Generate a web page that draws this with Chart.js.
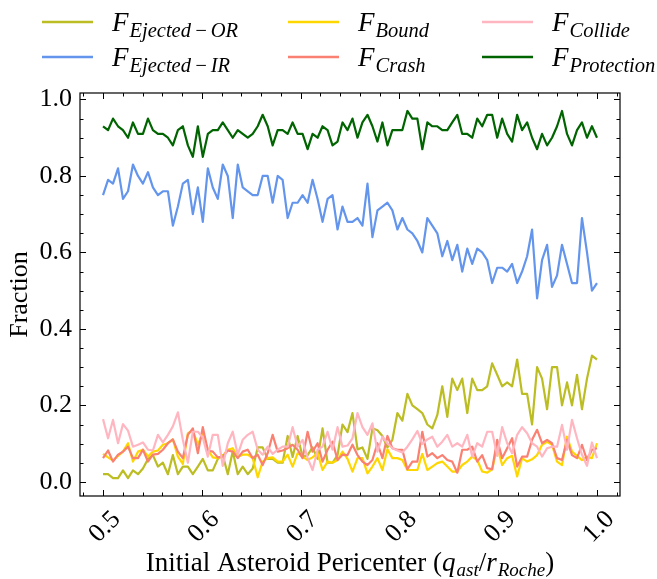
<!DOCTYPE html>
<html><head><meta charset="utf-8">
<script src="https://cdn.jsdelivr.net/npm/chart.js@4/dist/chart.umd.min.js"></script>
<style>html,body{margin:0;padding:0;background:#fff}#wrap{width:657px;height:579px}</style>
</head><body><div id="wrap"><canvas id="c" width="657" height="579"></canvas></div>
<script>
// ---- data ----
const pericenter = [0.5000,0.5051,0.5101,0.5152,0.5202,0.5253,0.5303,0.5354,0.5404,0.5455,
0.5505,0.5556,0.5606,0.5657,0.5707,0.5758,0.5808,0.5859,0.5909,0.5960,
0.6010,0.6061,0.6111,0.6162,0.6212,0.6263,0.6313,0.6364,0.6414,0.6465,
0.6515,0.6566,0.6616,0.6667,0.6717,0.6768,0.6818,0.6869,0.6919,0.6970,
0.7020,0.7071,0.7121,0.7172,0.7222,0.7273,0.7323,0.7374,0.7424,0.7475,
0.7525,0.7576,0.7626,0.7677,0.7727,0.7778,0.7828,0.7879,0.7929,0.7980,
0.8030,0.8081,0.8131,0.8182,0.8232,0.8283,0.8333,0.8384,0.8434,0.8485,
0.8535,0.8586,0.8636,0.8687,0.8737,0.8788,0.8838,0.8889,0.8939,0.8990,
0.9040,0.9091,0.9141,0.9192,0.9242,0.9293,0.9343,0.9394,0.9444,0.9495,
0.9545,0.9596,0.9646,0.9697,0.9747,0.9798,0.9848,0.9899,0.9949,1.0000];

const fEjectedOR = [0.02,0.02,0.01,0.01,0.03,0.01,0.03,0.02,0.035,0.06,
0.07,0.04,0.05,0.02,0.07,0.02,0.04,0.04,0.02,0.04,
0.06,0.03,0.03,0.06,0.07,0.02,0.08,0.02,0.04,0.02,
0.035,0.09,0.09,0.06,0.06,0.05,0.05,0.12,0.065,0.12,
0.065,0.07,0.09,0.06,0.14,0.05,0.05,0.07,0.15,0.13,
0.18,0.085,0.09,0.06,0.14,0.135,0.12,0.09,0.11,0.18,
0.16,0.23,0.20,0.19,0.18,0.15,0.14,0.175,0.25,0.17,
0.27,0.24,0.27,0.18,0.27,0.24,0.24,0.25,0.31,0.28,
0.25,0.26,0.25,0.32,0.23,0.23,0.15,0.30,0.27,0.19,
0.30,0.30,0.20,0.26,0.20,0.28,0.19,0.27,0.33,0.32];

const fEjectedIR = [0.75,0.79,0.78,0.82,0.74,0.76,0.83,0.80,0.78,0.81,
0.77,0.75,0.76,0.76,0.67,0.72,0.78,0.79,0.70,0.77,
0.68,0.82,0.77,0.74,0.83,0.80,0.69,0.83,0.77,0.76,
0.75,0.75,0.80,0.80,0.73,0.80,0.79,0.69,0.73,0.73,
0.75,0.73,0.79,0.74,0.68,0.74,0.75,0.66,0.72,0.68,
0.68,0.69,0.67,0.78,0.64,0.71,0.72,0.73,0.71,0.66,
0.69,0.66,0.65,0.63,0.60,0.69,0.67,0.65,0.59,0.63,
0.58,0.62,0.55,0.61,0.57,0.61,0.60,0.58,0.52,0.56,
0.56,0.55,0.57,0.52,0.55,0.59,0.66,0.48,0.58,0.62,
0.51,0.54,0.62,0.57,0.52,0.52,0.69,0.60,0.50,0.52];

const fBound = [0.073,0.064,0.056,0.068,0.079,0.101,0.053,0.079,0.084,0.066,
0.079,0.082,0.097,0.101,0.111,0.066,0.047,0.127,0.134,0.097,
0.127,0.084,0.064,0.062,0.068,0.084,0.088,0.066,0.071,0.071,
0.062,0.012,0.053,0.062,0.064,0.053,0.053,0.071,0.040,0.075,
0.066,0.057,0.064,0.075,0.031,0.053,0.050,0.057,0.079,0.060,
0.027,0.062,0.062,0.022,0.040,0.062,0.031,0.085,0.062,0.062,
0.057,0.031,0.031,0.031,0.073,0.031,0.040,0.049,0.053,0.040,
0.027,0.027,0.044,0.053,0.066,0.057,0.027,0.024,0.033,0.092,
0.044,0.062,0.068,0.014,0.062,0.053,0.059,0.070,0.097,0.105,
0.097,0.053,0.044,0.118,0.079,0.068,0.057,0.066,0.062,0.101];

const fCrash = [0.062,0.082,0.053,0.071,0.079,0.092,0.062,0.062,0.084,0.053,
0.071,0.073,0.084,0.101,0.111,0.079,0.062,0.123,0.140,0.075,
0.143,0.082,0.079,0.064,0.066,0.082,0.079,0.062,0.079,0.084,
0.062,0.071,0.044,0.075,0.123,0.079,0.082,0.088,0.097,0.084,
0.062,0.131,0.079,0.101,0.053,0.084,0.105,0.057,0.071,0.070,
0.097,0.070,0.053,0.044,0.057,0.101,0.062,0.120,0.088,0.084,
0.084,0.033,0.053,0.053,0.131,0.066,0.075,0.062,0.070,0.057,
0.053,0.024,0.084,0.084,0.092,0.053,0.070,0.036,0.033,0.110,
0.062,0.088,0.114,0.040,0.066,0.066,0.110,0.136,0.101,0.110,
0.101,0.062,0.057,0.110,0.070,0.062,0.097,0.057,0.084,0.088];

const fCollide = [0.164,0.114,0.162,0.101,0.151,0.134,0.092,0.097,0.103,0.084,
0.082,0.123,0.103,0.123,0.145,0.182,0.110,0.050,0.131,0.131,
0.116,0.066,0.123,0.123,0.042,0.101,0.131,0.071,0.110,0.123,
0.131,0.084,0.071,0.092,0.073,0.084,0.092,0.092,0.143,0.092,
0.110,0.062,0.031,0.084,0.092,0.131,0.084,0.143,0.092,0.095,
0.114,0.180,0.143,0.123,0.153,0.079,0.118,0.101,0.088,0.082,
0.077,0.092,0.111,0.133,0.099,0.111,0.118,0.092,0.105,0.123,
0.092,0.101,0.092,0.123,0.066,0.101,0.092,0.131,0.131,0.068,
0.143,0.101,0.075,0.123,0.143,0.127,0.101,0.092,0.066,0.088,
0.092,0.092,0.149,0.084,0.162,0.114,0.071,0.042,0.103,0.062];

const fProtection = [0.93,0.92,0.95,0.93,0.92,0.90,0.94,0.91,0.91,0.95,
0.92,0.91,0.91,0.90,0.88,0.92,0.93,0.88,0.85,0.93,
0.85,0.91,0.92,0.92,0.94,0.92,0.90,0.92,0.91,0.90,
0.91,0.93,0.96,0.93,0.88,0.92,0.92,0.91,0.94,0.91,
0.91,0.87,0.91,0.90,0.93,0.92,0.88,0.89,0.94,0.92,
0.95,0.90,0.94,0.96,0.93,0.89,0.94,0.88,0.92,0.92,
0.92,0.97,0.95,0.95,0.87,0.94,0.93,0.93,0.92,0.92,
0.94,0.96,0.91,0.91,0.90,0.95,0.93,0.96,0.96,0.90,
0.95,0.91,0.89,0.96,0.92,0.94,0.90,0.87,0.91,0.88,
0.90,0.93,0.97,0.91,0.88,0.92,0.94,0.90,0.93,0.90];

const seriesNames = ['Ejected\u2212OR','Ejected\u2212IR','Bound','Crash','Collide','Protection'];
const xTickValues = [0.5,0.6,0.7,0.8,0.9,1.0];
const xTickLabels = ['0.5','0.6','0.7','0.8','0.9','1.0'];
const yTickValues = [0.0,0.2,0.4,0.6,0.8,1.0];
const yTickLabels = ['0.0','0.2','0.4','0.6','0.8','1.0'];

// ---- styling ----
const colors = ['#bcbd22','#6495ed','#ffd700','#fa8072','#ffb6c1','#006400'];
const allSeries = [fEjectedOR,fEjectedIR,fBound,fCrash,fCollide,fProtection];
const SERIF = '"Liberation Serif", "DejaVu Serif", serif';

const datasets = allSeries.map((s,k)=>({
  label: seriesNames[k],
  data: pericenter.map((x,i)=>({x:x, y:s[i]})),
  borderColor: colors[k],
  backgroundColor: colors[k],
  borderWidth: 2.2,
  pointRadius: 0,
  tension: 0,
  fill: false,
  order: 6-k
}));

function drawRich(ctx, pieces, x, baseline, align){
  let total = 0;
  pieces.forEach(p=>{ ctx.font = p.font; p.w = ctx.measureText(p.t).width; total += p.w + (p.gap||0); });
  let cx = align==='center' ? x - total/2 : x;
  ctx.textAlign = 'left'; ctx.textBaseline = 'alphabetic';
  pieces.forEach(p=>{ ctx.font = p.font; ctx.fillText(p.t, cx, baseline + (p.dy||0)); cx += p.w + (p.gap||0); });
}

const deco = {
  id: 'deco',
  afterDraw(chart){
    const ctx = chart.ctx, a = chart.chartArea, xs = chart.scales.x, ys = chart.scales.y;
    ctx.save();
    ctx.strokeStyle = '#000'; ctx.fillStyle = '#000'; ctx.lineWidth = 1;
    const MAJ = 6, MIN = 3.5;
    ctx.beginPath();
    for (let k = 24; k <= 51; k++){
      const v = k*0.02;
      if (v < xs.min || v > xs.max) continue;
      const isMaj = xTickValues.some(t=>Math.abs(t-v)<1e-6);
      const L = isMaj ? MAJ : MIN;
      const px = Math.round(xs.getPixelForValue(v)) + 0.5;
      ctx.moveTo(px, a.bottom); ctx.lineTo(px, a.bottom - L);
      ctx.moveTo(px, a.top); ctx.lineTo(px, a.top + L);
    }
    for (let k = 0; k <= 20; k++){
      const v = k*0.05;
      if (v < ys.min || v > ys.max) continue;
      const isMaj = yTickValues.some(t=>Math.abs(t-v)<1e-6);
      const L = isMaj ? MAJ : MIN;
      const py = Math.round(ys.getPixelForValue(v)) + 0.5;
      ctx.moveTo(a.left, py); ctx.lineTo(a.left + L, py);
      ctx.moveTo(a.right, py); ctx.lineTo(a.right - L, py);
    }
    ctx.stroke();
    ctx.lineWidth = 1.2;
    ctx.strokeRect(a.left, a.top, a.right - a.left, a.bottom - a.top);

    // x tick labels, rotated 45 deg
    ctx.font = '26px ' + SERIF;
    ctx.textAlign = 'center'; ctx.textBaseline = 'middle';
    xTickValues.forEach((v,i)=>{
      const px = xs.getPixelForValue(v);
      ctx.save(); ctx.translate(px + 2, a.bottom + 31); ctx.rotate(-Math.PI/4);
      ctx.fillText(xTickLabels[i], 0, 0); ctx.restore();
    });

    // y title
    ctx.save(); ctx.translate(20, (a.top + a.bottom)/2); ctx.rotate(-Math.PI/2);
    ctx.font = '26px ' + SERIF; ctx.textAlign = 'center'; ctx.textBaseline = 'middle';
    ctx.fillText('Fraction', 0, 0); ctx.restore();

    // x title
    const up = '27px ' + SERIF, it = 'italic 27px ' + SERIF, sub = 'italic 19px ' + SERIF;
    drawRich(ctx, [
      {t:'Initial Asteroid Pericenter (', font: up},
      {t:'q', font: it, gap: 1},
      {t:'ast', font: sub, dy: 5},
      {t:'/', font: up},
      {t:'r', font: it, gap: 1},
      {t:'Roche', font: sub, dy: 5},
      {t:')', font: up}
    ], (a.left + a.right)/2, 571, 'center');

    // legend
    const cols = [{lx:42, tx:112},{lx:288, tx:358},{lx:482, tx:552}];
    const rows = [22, 57];
    const subFont = 'italic 20.5px ' + SERIF;
    seriesNames.forEach((nm,k)=>{
      const c = cols[Math.floor(k/2)], y = rows[k%2];
      ctx.strokeStyle = colors[k]; ctx.lineWidth = 2.5;
      ctx.beginPath(); ctx.moveTo(c.lx, y); ctx.lineTo(c.lx + 51, y); ctx.stroke();
      ctx.fillStyle = '#000';
      const parts = nm.split('\u2212');
      const pieces = [{t:'F', font:'italic 27px ' + SERIF, gap: 1}];
      parts.forEach((p,j)=>{
        if (j > 0) pieces.push({t:'\u2212', font: subFont, dy: 6, gap: 3});
        pieces.push({t:p, font: subFont, dy: 6, gap: (j < parts.length-1) ? 3 : 0});
      });
      drawRich(ctx, pieces, c.tx, y + 9, 'left');
    });
    ctx.restore();
  }
};

new Chart(document.getElementById('c'), {
  type: 'line',
  data: { datasets },
  options: {
    responsive: false,
    devicePixelRatio: 1,
    animation: false,
    layout: { padding: { top: 93, right: 37, left: 0, bottom: 0 } },
    plugins: { legend: { display: false }, tooltip: { enabled: false } },
    elements: { line: { borderCapStyle: 'butt', borderJoinStyle: 'round' } },
    scales: {
      x: {
        type: 'linear', min: 0.4767, max: 1.0233,
        grid: { display: false, drawTicks: false },
        border: { display: false },
        ticks: { display: false },
        afterFit(s){ s.height = 83; }
      },
      y: {
        type: 'linear', min: -0.037, max: 1.017,
        grid: { display: false, drawTicks: false },
        border: { display: false },
        afterBuildTicks(s){ s.ticks = yTickValues.map(v=>({value:v})); },
        ticks: {
          color: '#000', padding: 8,
          font: { family: SERIF, size: 26 },
          callback(v){ const i = yTickValues.findIndex(t=>Math.abs(t-v)<1e-6); return i>=0 ? yTickLabels[i] : ''; }
        },
        afterFit(s){ s.width = 80; }
      }
    }
  },
  plugins: [deco]
});
</script>
</body></html>
